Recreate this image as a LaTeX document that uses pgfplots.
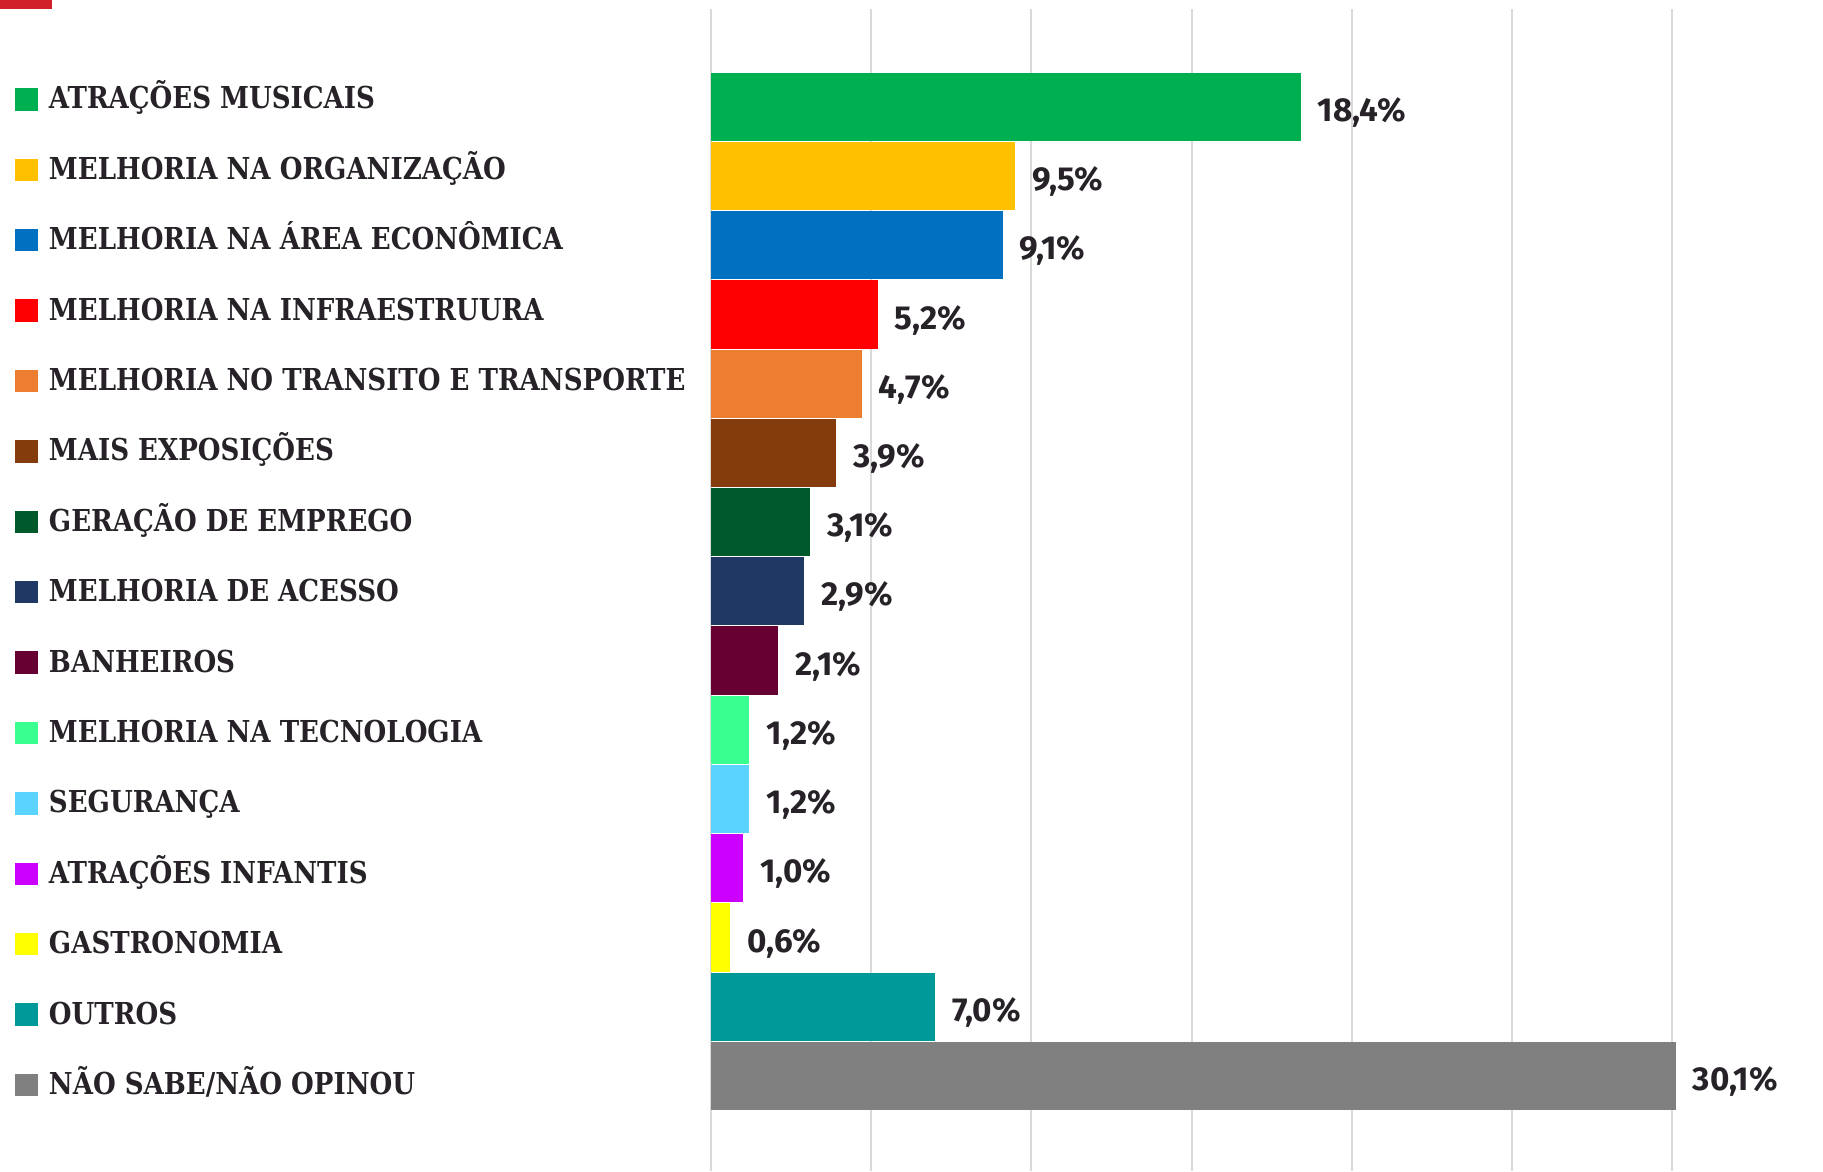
\documentclass[border=0pt]{standalone}
\usepackage{fontspec}
\usepackage{pgfplots}
\pgfplotsset{compat=1.18}

\newfontfamily\labfont{DejaVu Serif Condensed Bold}[FakeStretch=0.96]
\newfontfamily\valfont{Fira Sans Bold}

\definecolor{txt}{HTML}{262228}
\definecolor{gridc}{HTML}{D9D9D9}
\definecolor{redtop}{HTML}{D0202A}
\definecolor{c1}{HTML}{00B050}
\definecolor{c2}{HTML}{FFC000}
\definecolor{c3}{HTML}{0070C0}
\definecolor{c4}{HTML}{FF0000}
\definecolor{c5}{HTML}{ED7D31}
\definecolor{c6}{HTML}{843C0C}
\definecolor{c7}{HTML}{00592A}
\definecolor{c8}{HTML}{203864}
\definecolor{c9}{HTML}{660033}
\definecolor{c10}{HTML}{38FF8F}
\definecolor{c11}{HTML}{5AD3FF}
\definecolor{c12}{HTML}{CC00FF}
\definecolor{c13}{HTML}{FFFF00}
\definecolor{c14}{HTML}{009999}
\definecolor{c15}{HTML}{808080}

\newcommand{\sq}[1]{\textcolor{#1}{\rule[-0.4pt]{5.6pt}{5.6pt}}\hspace{2.8pt}}

\pgfplotsset{
  onebar/.style={fill=#1, draw=none, bar shift=0pt},
  frame/.style={
    at={(177.75pt,0pt)}, anchor=south west,
    scale only axis, width=278pt, height=290.5pt,
    xmin=0, xmax=34.7, y dir=reverse,
    axis line style={draw=none},
    major tick length=0pt,
  },
}

\begin{document}
\begin{tikzpicture}
\useasboundingbox (0,0) rectangle (455.75pt,292.75pt);
\fill[redtop] (0,290.5pt) rectangle (13pt,292.75pt);

% bars
\begin{axis}[
  frame,
  ymin=-1.411, ymax=15.373,
  xbar, bar width=0.985,
  xtick={0,5,...,30}, xticklabels={}, ytick=\empty,
  xmajorgrids, major grid style={color=gridc, line width=0.5pt},
  point meta=x,
  nodes near coords={\pgfmathprintnumber[assume math mode=true,fixed,fixed zerofill,precision=1,use comma]{\pgfplotspointmeta}\%},
  nodes near coords style={anchor=base west, inner sep=0pt, xshift=4.1pt, yshift=-3.65pt,
    font=\valfont\fontsize{8.3pt}{10pt}\selectfont, text=txt},
  clip=false,
]
\addplot[onebar=c1]  coordinates {(18.4,0)};
\addplot[onebar=c2]  coordinates {(9.5,1)};
\addplot[onebar=c3]  coordinates {(9.1,2)};
\addplot[onebar=c4]  coordinates {(5.2,3)};
\addplot[onebar=c5]  coordinates {(4.7,4)};
\addplot[onebar=c6]  coordinates {(3.9,5)};
\addplot[onebar=c7]  coordinates {(3.1,6)};
\addplot[onebar=c8]  coordinates {(2.9,7)};
\addplot[onebar=c9]  coordinates {(2.1,8)};
\addplot[onebar=c10] coordinates {(1.2,9)};
\addplot[onebar=c11] coordinates {(1.2,10)};
\addplot[onebar=c12] coordinates {(1.0,11)};
\addplot[onebar=c13] coordinates {(0.6,12)};
\addplot[onebar=c14] coordinates {(7.0,13)};
\addplot[onebar=c15] coordinates {(30.1,14)};
\end{axis}

% category legend
\begin{axis}[
  frame,
  ymin=-1.281, ymax=15.224,
  xtick=\empty, ytick={0,...,14},
  yticklabels={
    {\sq{c1}ATRAÇÕES MUSICAIS},
    {\sq{c2}MELHORIA NA ORGANIZAÇÃO},
    {\sq{c3}MELHORIA NA ÁREA ECONÔMICA},
    {\sq{c4}MELHORIA NA INFRAESTRUURA},
    {\sq{c5}MELHORIA NO TRANSITO E TRANSPORTE},
    {\sq{c6}MAIS EXPOSIÇÕES},
    {\sq{c7}GERAÇÃO DE EMPREGO},
    {\sq{c8}MELHORIA DE ACESSO},
    {\sq{c9}BANHEIROS},
    {\sq{c10}MELHORIA NA TECNOLOGIA},
    {\sq{c11}SEGURANÇA},
    {\sq{c12}ATRAÇÕES INFANTIS},
    {\sq{c13}GASTRONOMIA},
    {\sq{c14}OUTROS},
    {\sq{c15}NÃO SABE/NÃO OPINOU}},
  yticklabel style={anchor=base west, inner sep=0pt, xshift=-174.1pt, yshift=-2.43pt,
    font=\labfont\fontsize{7.55pt}{9pt}\selectfont, text=txt},
]
\addplot[draw=none] coordinates {(0,0)};
\end{axis}
\end{tikzpicture}
\end{document}
